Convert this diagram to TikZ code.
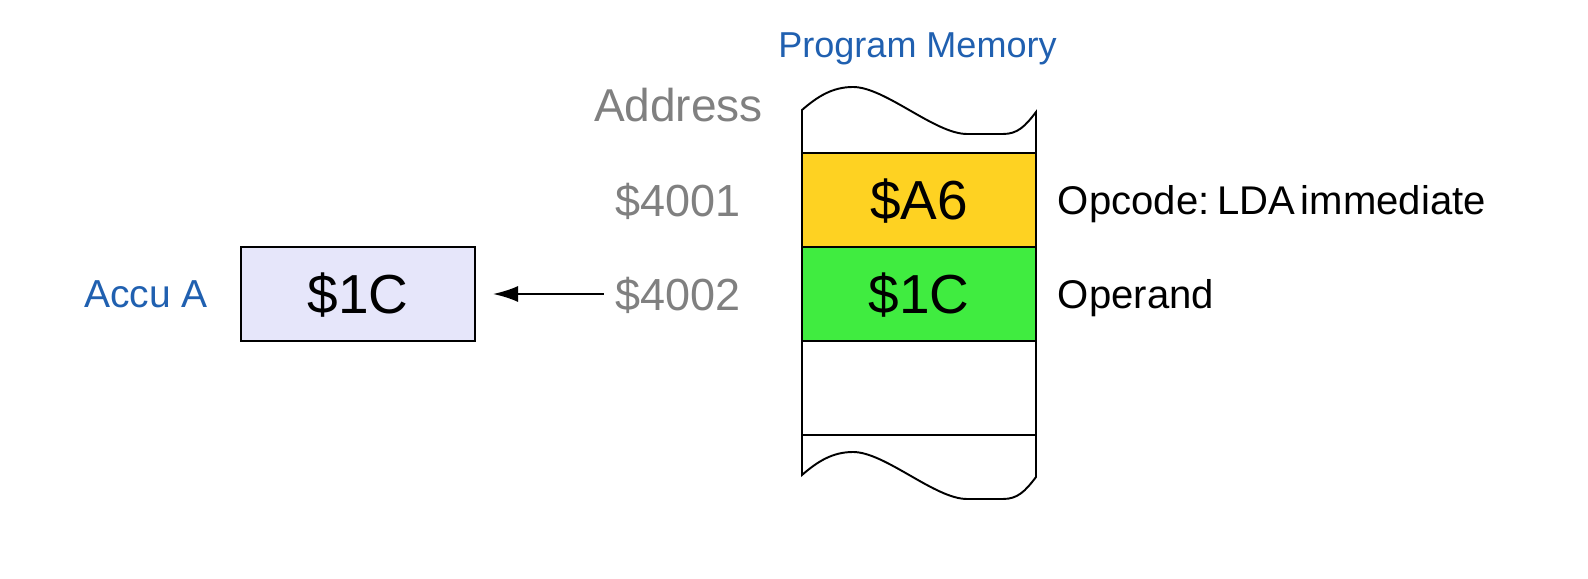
\documentclass[tikz,border=0pt]{standalone}
\usepackage{fontspec}
\setmainfont{Liberation Sans}
\usetikzlibrary{positioning,arrows.meta}
\definecolor{opyellow}{RGB}{254,210,34}
\definecolor{opgreen}{RGB}{64,236,64}
\definecolor{accufill}{RGB}{230,230,250}
\definecolor{labelblue}{RGB}{32,96,176}
\definecolor{addrgray}{RGB}{128,128,128}
\tikzset{
  memcell/.style={draw, line width=1.1pt, minimum width=4.68cm, minimum height=1.88cm,
    inner sep=0pt, outer sep=0pt, font=\fontsize{31.3}{36}\selectfont,
    text height=22.4pt, text depth=0pt},
  addr/.style={inner sep=0pt, text=addrgray, font=\fontsize{25.6}{30}\selectfont,
    text height=18.3pt, text depth=0pt},
  note/.style={inner sep=0pt, font=\fontsize{22.8}{27}\selectfont,
    text height=16.3pt, text depth=0pt},
  regname/.style={inner sep=0pt, text=labelblue, font=\fontsize{22.2}{26}\selectfont,
    text height=15.9pt, text depth=0pt},
}

\begin{document}
\begin{tikzpicture}[line width=1.1pt, node distance=0cm]
    \useasboundingbox (0,0) rectangle (31.76,11.58);
    % memory cells
    \node[memcell, fill=opyellow] (cellA6) at (18.38,7.58) {\$A6};
    \node[memcell, fill=opgreen, below=of cellA6] (cell1C) {\$1C};
    \node[memcell, below=of cell1C] (cellfree) {};
    % torn edge on top of the strip
    \draw (16.04,8.52) -- (16.04,9.38)
        .. controls (16.35,9.65) and (16.65,9.84) .. (17.06,9.84)
        .. controls (17.7,9.84) and (18.7,8.90) .. (19.34,8.90)
        -- (20.06,8.90)
        .. controls (20.35,8.90) and (20.5,9.05) .. (20.72,9.34)
        -- (20.72,8.52);
    % torn edge at the bottom of the strip
    \draw (16.04,2.88) -- (16.04,2.08)
        .. controls (16.35,2.35) and (16.65,2.54) .. (17.06,2.54)
        .. controls (17.7,2.54) and (18.7,1.60) .. (19.34,1.60)
        -- (20.06,1.60)
        .. controls (20.35,1.60) and (20.5,1.75) .. (20.72,2.04)
        -- (20.72,2.88);
    % addresses
    \node[addr, left=1.2cm of cellA6] (addr4001) {\$4001};
    \node[addr, left=1.2cm of cell1C] (addr4002) {\$4002};
    \node[addr, font=\fontsize{26.2}{31}\selectfont, text height=18.8pt,
        above=1.2cm of addr4001] (addrhead) {Address};
    % comments on the right
    \node[note, right=0.42cm of cellA6] (opcode)
        {Opcode:\hspace{0.19em}LDA\hspace{0.15em}immediate};
    \node[note, right=0.42cm of cell1C] (operand) {Operand};
    % Title
    \node[regname, font=\fontsize{20.5}{24}\selectfont, text height=14.7pt,
        anchor=south] (memtitle) at (18.35,10.42) {Program Memory};
    % accumulator
    \node[memcell, fill=accufill] (accu) at (7.16,5.70) {\$1C};
    \node[regname, left=0.64cm of accu] (accuname) {Accu A};
    \draw[-{Latex[length=0.5cm,width=0.32cm]}, shorten <=0.22cm, shorten >=0.36cm]
        (addr4002) -- (accu);% load the operand
\end{tikzpicture}
\end{document}
